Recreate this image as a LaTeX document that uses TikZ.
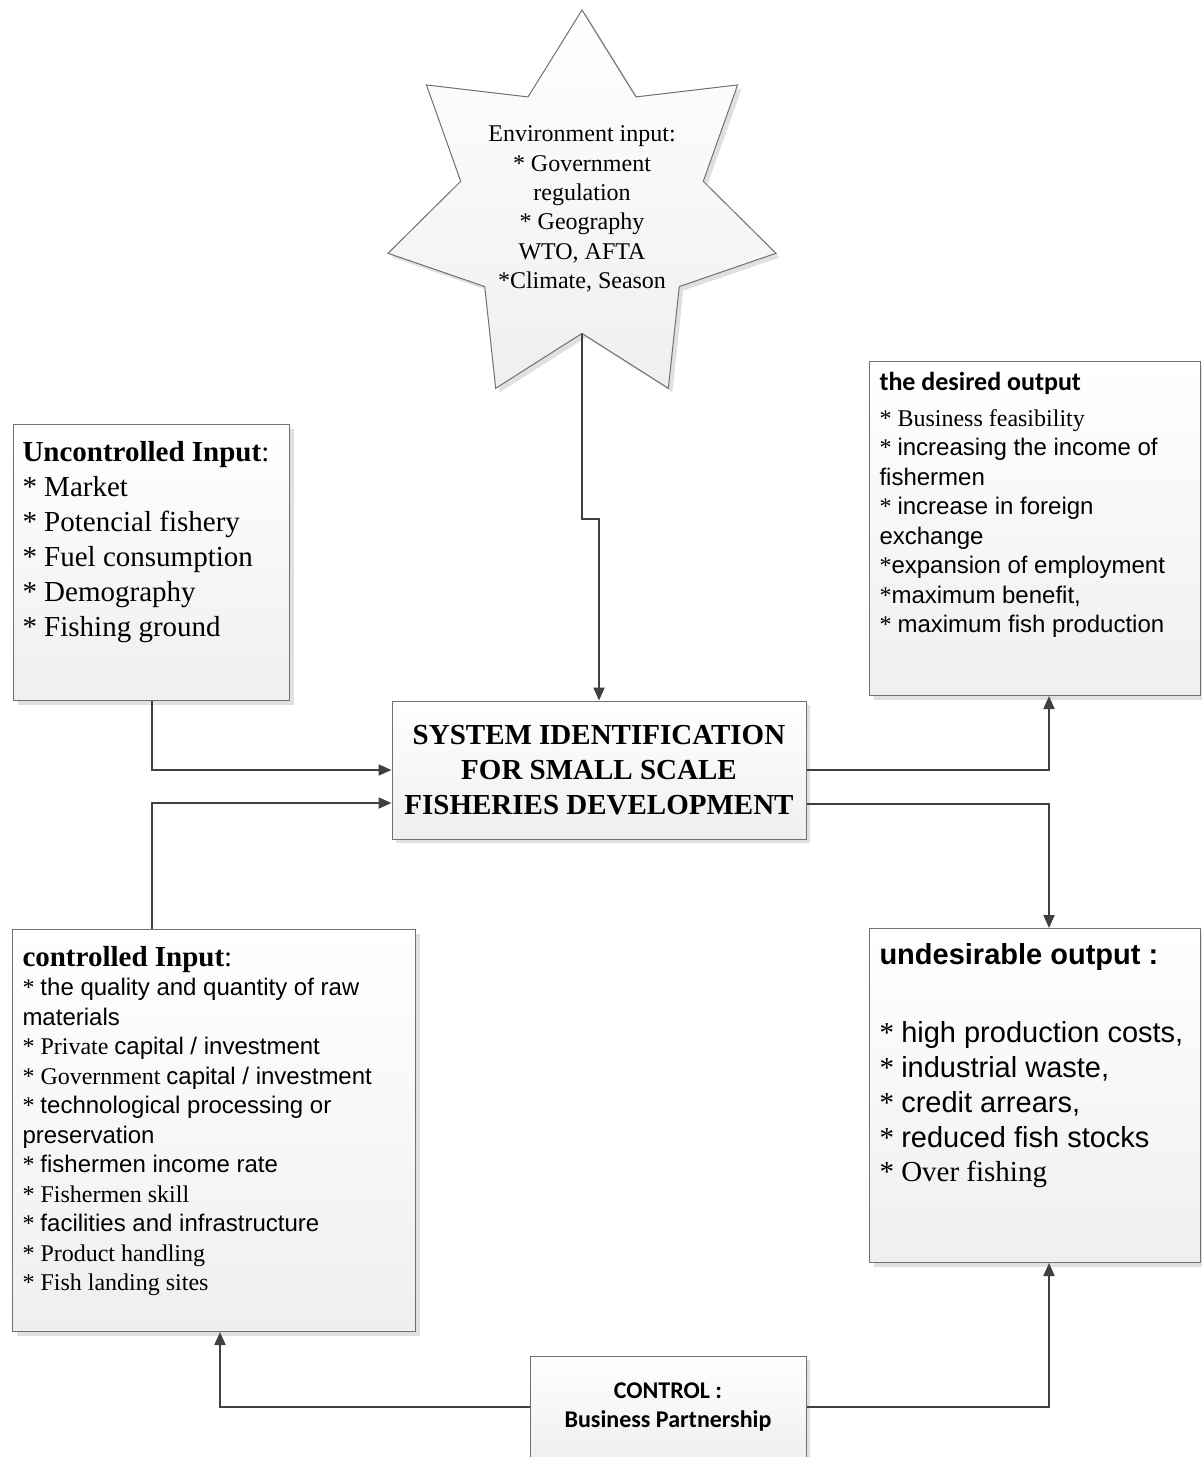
\documentclass[tikz,border=0pt]{standalone}
\usepackage{fontspec}
\setmainfont{Liberation Serif}
\newfontfamily\arial{Liberation Sans}
\newfontfamily\calibri{Carlito}
\usetikzlibrary{positioning,shapes.geometric,shadows,arrows.meta}

\definecolor{boxline}{RGB}{112,112,112}
\definecolor{wirecol}{RGB}{64,64,64}
\definecolor{boxbottom}{RGB}{239,239,239}

\newcommand{\toptext}[3]{\begin{minipage}[t][#2][t]{#1}#3\end{minipage}}

\tikzset{
  shaded/.style={draw=boxline, line width=0.5pt, top color=white, bottom color=boxbottom,
    drop shadow={shadow xshift=2pt, shadow yshift=-2pt, fill=black!30, opacity=0.4}},
  box/.style={shaded, rectangle, anchor=north west, inner xsep=5pt, inner ysep=6pt},
  titlebox/.style={shaded, rectangle, align=center, inner sep=0pt},
  envstar/.style={shaded, star, star points=7, star point ratio=1.6,
    minimum size=199pt, inner sep=0pt},
  wire/.style={draw=wirecol, line width=1pt, -{Triangle[length=6.5pt,width=5.5pt]}}
}

\begin{document}
\begin{tikzpicture}[x=0.5pt,y=-0.5pt]
    \useasboundingbox (0,0) rectangle (1201,1457);

    % environment
    \node[envstar, label={[align=center, font=\fontsize{12}{14.7}\selectfont]center:{Environment input:\\{}* Government\\ regulation\\{}* Geography\\ WTO, AFTA\\{}*Climate, Season}}] (env) at (582,209) {};

    % system
    \node[titlebox, minimum width=207pt, minimum height=69pt,
      font=\bfseries\fontsize{14.5}{17.5}\selectfont] (sys) at (599,770)
      {SYSTEM IDENTIFICATION\\ FOR SMALL SCALE\\ FISHERIES DEVELOPMENT};

    % inputs
    \node[box, inner xsep=4.5pt] (unc) at (13,424) {\toptext{129pt}{126pt}{%
      \fontsize{14.5}{17.5}\selectfont\strut{\bfseries Uncontrolled Input}:\par
      * Market\par * Potencial fishery\par * Fuel consumption\par * Demography\par * Fishing ground}};
    \node[box] (ctl) at (12,929) {\toptext{191.5pt}{189pt}{%
      \fontsize{14.5}{17.5}\selectfont\strut{\bfseries controlled Input}:\par
      \fontsize{12}{14.75}\selectfont
      * {\arial the quality and quantity of raw}\par
      {\arial materials}\par
      * Private {\arial capital / investment}\par
      * Government {\arial capital / investment}\par
      * {\arial technological processing or}\par
      {\arial preservation}\par
      * {\arial fishermen income rate}\par
      * Fishermen skill\par
      * {\arial facilities and infrastructure}\par
      * Product handling\par
      * Fish landing sites}};

    % outputs
    \node[box, inner ysep=4pt] (des) at (869,361) {\toptext{155.5pt}{159pt}{%
      {\calibri\bfseries\fontsize{13}{15}\selectfont\strut the desired output\par}
      \vspace{3pt}
      \fontsize{12}{14.75}\selectfont
      * Business feasibility\par
      * {\arial increasing the income of}\par
      {\arial fishermen}\par
      * {\arial increase in foreign}\par
      {\arial exchange}\par
      *{\arial expansion of employment}\par
      *{\arial maximum benefit,}\par
      * {\arial maximum fish production}}};
    \node[box] (und) at (869,928) {\toptext{155.5pt}{155pt}{%
      \fontsize{14.5}{17.4}\selectfont\strut{\arial\bfseries undesirable output :}\par
      \vspace{21.5pt}
      * {\arial high production costs,}\par
      * {\arial industrial waste,}\par
      * {\arial credit arrears,}\par
      * {\arial reduced fish stocks}\par
      * Over fishing}};

    % control
    \node[titlebox, minimum width=138pt, minimum height=51pt,
      font=\calibri\bfseries\fontsize{12}{14.5}\selectfont] (ctrl) at (668,1407)
      {CONTROL :\\ Business Partnership};

    \draw[wire] (env.south) -- ++(0,185) -| (sys.north);
    \draw[wire] (unc.south) |- (sys.west);
    \draw[wire] (ctl.north -| unc.south) |- ([yshift=-16.5pt]sys.west);
    \draw[wire] (sys.east) -| ([xshift=7pt]des.south);
    \draw[wire] ([yshift=-17pt]sys.east) -| ([xshift=7pt]und.north);
    \draw[wire] (ctrl.west) -| ([xshift=3pt]ctl.south);
    \draw[wire] (ctrl.east) -| ([xshift=7pt]und.south);
  \end{tikzpicture}
\end{document}
